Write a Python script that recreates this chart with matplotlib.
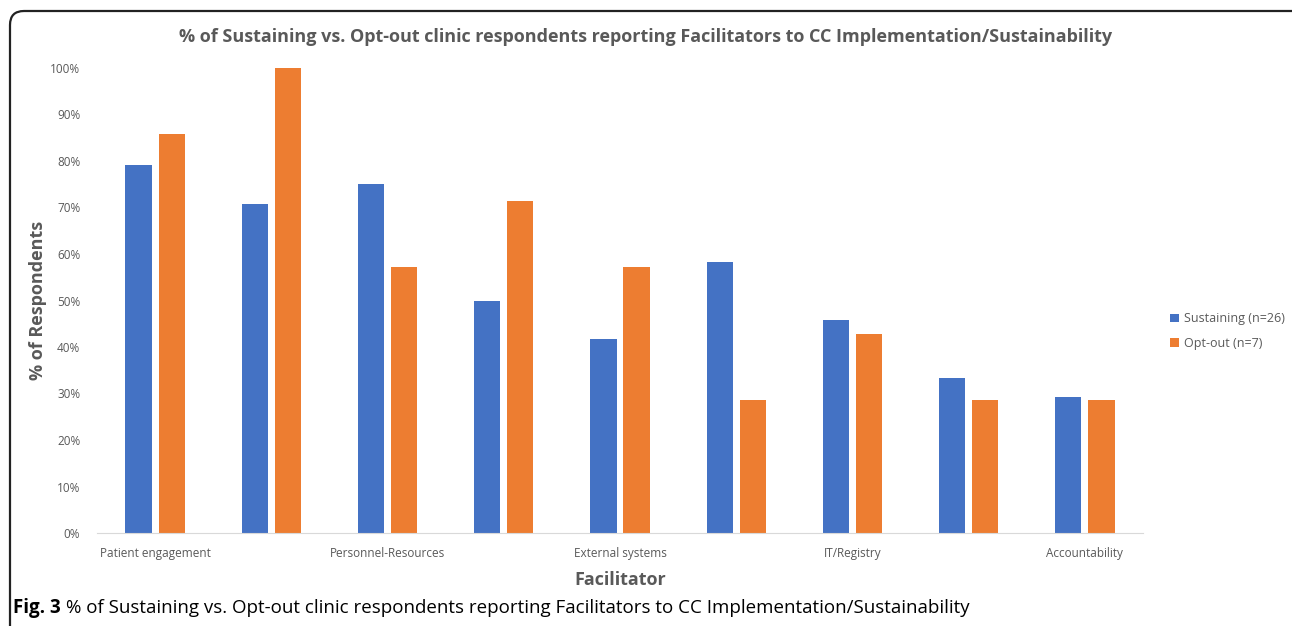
import matplotlib
matplotlib.use('Agg')
from matplotlib import pyplot as plt
from matplotlib.patches import FancyBboxPatch
from matplotlib.ticker import PercentFormatter
import numpy as np

# category names (Excel only prints every second one)
categories = ['Patient engagement', '', 'Personnel-Resources', '', 'External systems',
              '', 'IT/Registry', '', 'Accountability']
sustaining = [79.2, 70.8, 75.0, 50.0, 41.7, 58.3, 45.8, 33.3, 29.2]
optout = [85.7, 100.0, 57.1, 71.4, 57.1, 28.6, 42.9, 28.6, 28.6]
series_names = ['Sustaining (n=26)', 'Opt-out (n=7)']

plt.rcParams['font.family'] = ['Open Sans', 'DejaVu Sans']

fig = plt.figure(figsize=(12.92, 6.26), dpi=100)

# rounded frame around the figure (inches)
frame = FancyBboxPatch((0.10, -0.5), 13.5, 6.26 - 0.11 + 0.5,
                       boxstyle='round,pad=0,rounding_size=0.14',
                       transform=fig.dpi_scale_trans, fill=False,
                       edgecolor='#222222', linewidth=1.6, clip_on=False)
fig.patches.append(frame)

ax = fig.add_axes([97 / 1292, 1 - 533 / 626, (1143 - 97) / 1292, (533 - 68) / 626])

x = np.arange(len(categories))
w = 0.225
gap = 0.06
ax.bar(x - (w + gap) / 2, sustaining, w, color='#4472C4', label=series_names[0])
ax.bar(x + (w + gap) / 2, optout, w, color='#ED7D31', label=series_names[1])

ax.set_xlim(-0.5, len(categories) - 0.5)
ax.set_ylim(0, 100)
ax.set_yticks(np.arange(0, 101, 10))
ax.yaxis.set_major_formatter(PercentFormatter(decimals=0))
ax.set_xticks(x)
ax.set_xticklabels(categories)
ax.tick_params(axis='both', length=0, labelsize=8.5, labelcolor='#595959')
ax.tick_params(axis='x', pad=10)
ax.tick_params(axis='y', pad=12)
for s in ['top', 'right', 'left']:
    ax.spines[s].set_visible(False)
ax.spines['bottom'].set_color('#D9D9D9')

fig.text(0.5, 1 - 37 / 626,
         '% of Sustaining vs. Opt-out clinic respondents reporting Facilitators to CC Implementation/Sustainability',
         fontsize=13, fontweight='bold', color='#595959', ha='center', va='center')
ax.set_ylabel('% of Respondents', fontsize=13, fontweight='bold', color='#595959', labelpad=2)
ax.set_xlabel('Facilitator', fontsize=13, fontweight='bold', color='#595959', labelpad=8)

ax.legend(loc='center left', bbox_to_anchor=(1.015, 0.434), frameon=False,
          fontsize=9, labelcolor='#595959', handlelength=0.7, handleheight=0.7,
          labelspacing=0.95, handletextpad=0.4)

# caption: bold "Fig. 3" followed by regular text
cap_y = 1 - 608 / 626
t1 = fig.text(13 / 1292, cap_y, 'Fig. 3', fontsize=13.5, fontweight='bold', va='center')
fig.canvas.draw()
bb = t1.get_window_extent()
fig.text((bb.x1 + 5) / 1292, cap_y,
         '% of Sustaining vs. Opt-out clinic respondents reporting Facilitators to CC Implementation/Sustainability',
         fontsize=13.5, va='center')

fig.savefig('out.png', dpi=100)
